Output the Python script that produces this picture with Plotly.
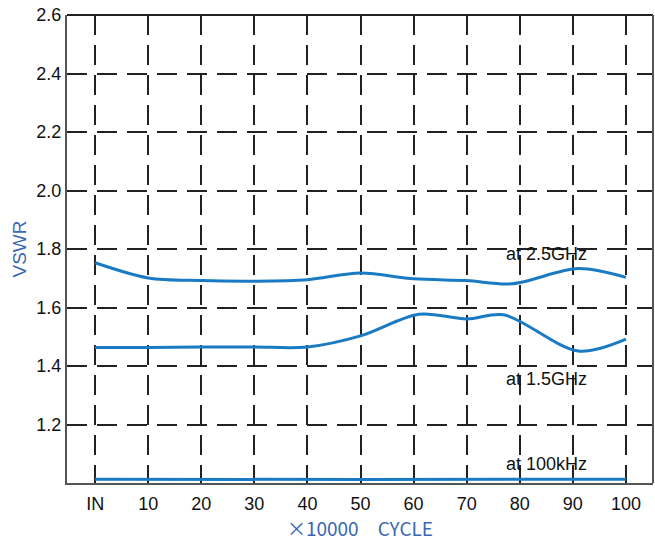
import plotly.graph_objects as go

tick_vals = [0, 10, 20, 30, 40, 50, 60, 70, 80, 90, 100]
tick_text = ["IN", "10", "20", "30", "40", "50", "60", "70", "80", "90", "100"]

x_25 = [0, 10, 20, 30, 40, 50, 60, 70, 78.5, 91, 100]
v_25 = [1.753, 1.701, 1.692, 1.690, 1.695, 1.718, 1.698, 1.692, 1.681, 1.733, 1.703]

x_15 = [0, 10, 20, 30, 40, 50, 61, 70, 77, 91, 100]
v_15 = [1.463, 1.463, 1.465, 1.465, 1.465, 1.503, 1.577, 1.561, 1.575, 1.451, 1.492]

x_100k = [0, 50, 100]
v_100k = [1.013, 1.012, 1.013]

labels = ["at 2.5GHz", "at 1.5GHz", "at 100kHz"]
label_y = [1.782, 1.355, 1.065]

line_color = "#1a7bc4"
title_color = "#3a67b5"

fig = go.Figure()
for xs, ys in [(x_25, v_25), (x_15, v_15), (x_100k, v_100k)]:
    fig.add_trace(go.Scatter(x=xs, y=ys, mode="lines",
                             line=dict(color=line_color, width=3, shape="spline", smoothing=0.9),
                             showlegend=False, hoverinfo="skip"))

for t, yy in zip(labels, label_y):
    fig.add_annotation(x=85, y=yy, text=t, showarrow=False,
                       font=dict(size=18, color="#111111", family="Liberation Sans"))

grid = dict(showgrid=True, gridcolor="#222222", gridwidth=1.5, griddash="20px,10px")

fig.update_layout(
    width=655, height=541,
    margin=dict(l=67, r=2, t=15, b=58),
    paper_bgcolor="white", plot_bgcolor="white",
    font=dict(family="Liberation Sans", size=18, color="#111111"),
    xaxis=dict(range=[-5.3, 105.1], tickvals=tick_vals, ticktext=tick_text,
               showline=True, linecolor="#555555", linewidth=2, mirror=False,
               ticks="", zeroline=False, automargin=False, ticklabelstandoff=3,
               title=dict(text="×10000\u3000CYCLE",
                          font=dict(size=19, color=title_color, family="Noto Sans CJK JP"),
                          standoff=16),
               **grid),
    yaxis=dict(range=[1.0, 2.6], tickvals=[1.2, 1.4, 1.6, 1.8, 2.0, 2.2, 2.4, 2.6],
               ticktext=["1.2", "1.4", "1.6", "1.8", "2.0", "2.2", "2.4", "2.6"],
               showline=True, linecolor="#555555", linewidth=2,
               ticks="", zeroline=False, automargin=False,
               title=dict(text="VSWR", font=dict(size=19, color=title_color), standoff=5),
               **grid),
)
fig.add_shape(type="line", xref="paper", yref="paper", x0=0, x1=1, y0=1, y1=1,
              line=dict(color="#222222", width=2))
fig.add_shape(type="line", xref="paper", yref="paper", x0=1, x1=1, y0=0, y1=1,
              line=dict(color="#555555", width=2))

fig.write_html("out.html", config={"displayModeBar": False},
               post_script="document.body.style.margin='0px';")
